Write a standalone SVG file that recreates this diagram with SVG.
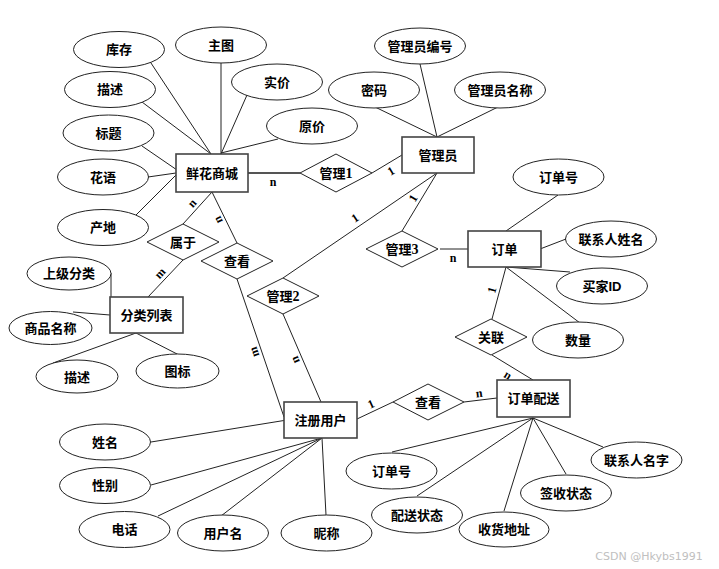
<svg xmlns="http://www.w3.org/2000/svg" width="719" height="569" viewBox="0 0 719 569">
<style>
.ent{fill:#fff;stroke:#444;stroke-width:1.6}
.rel{fill:#fff;stroke:#222;stroke-width:1}
.att{fill:#fff;stroke:#222;stroke-width:1}
text{font-family:"Liberation Serif","Noto Sans CJK SC",serif;font-weight:bold;font-size:13px;text-anchor:middle;dominant-baseline:central;fill:#000}
.card{font-size:12px}
.num{font-size:14px}
.conn line{stroke:#222;stroke-width:1}
.wm{font-family:"DejaVu Sans",sans-serif;font-weight:normal;font-size:11px;fill:#c0c0c0}
</style>
<rect width="719" height="569" fill="#fff"/>
<g class="conn">
<line x1="149" y1="60" x2="211" y2="154"/>
<line x1="221" y1="63" x2="221" y2="154"/>
<line x1="247" y1="95" x2="221" y2="154"/>
<line x1="142" y1="102" x2="211" y2="154"/>
<line x1="278" y1="139" x2="221" y2="153"/>
<line x1="142" y1="146" x2="177" y2="170"/>
<line x1="148" y1="177" x2="176" y2="173"/>
<line x1="134" y1="217" x2="176" y2="175"/>
<line x1="248" y1="173" x2="300" y2="173" style="stroke:#555;stroke-width:2"/>
<line x1="372" y1="173" x2="402" y2="155"/>
<line x1="420" y1="64" x2="437" y2="137"/>
<line x1="375" y1="107" x2="437" y2="137"/>
<line x1="498" y1="107" x2="437" y2="137"/>
<line x1="437" y1="173" x2="402" y2="231"/>
<line x1="437" y1="173" x2="283" y2="278"/>
<line x1="440" y1="249" x2="470" y2="249"/>
<line x1="558" y1="195" x2="506" y2="231"/>
<line x1="566" y1="239" x2="540" y2="249"/>
<line x1="506" y1="267" x2="570" y2="272"/>
<line x1="506" y1="267" x2="580" y2="323"/>
<line x1="506" y1="267" x2="492" y2="319"/>
<line x1="492" y1="355" x2="533" y2="380"/>
<line x1="464" y1="402" x2="497" y2="398"/>
<line x1="357" y1="419" x2="393" y2="402"/>
<line x1="212" y1="192" x2="183" y2="224"/>
<line x1="212" y1="192" x2="237" y2="243"/>
<line x1="183" y1="260" x2="148" y2="297"/>
<line x1="237" y1="279" x2="284" y2="417"/>
<line x1="283" y1="314" x2="321" y2="402"/>
<line x1="111" y1="273" x2="111" y2="297"/>
<line x1="73" y1="312" x2="110" y2="315"/>
<line x1="53" y1="363" x2="136" y2="333"/>
<line x1="181" y1="356" x2="136" y2="333"/>
<line x1="151" y1="442" x2="287" y2="420"/>
<line x1="151" y1="485" x2="322" y2="438"/>
<line x1="158" y1="516" x2="322" y2="438"/>
<line x1="221" y1="516" x2="322" y2="438"/>
<line x1="326" y1="515" x2="322" y2="438"/>
<line x1="392" y1="452" x2="533" y2="418"/>
<line x1="417" y1="496" x2="533" y2="418"/>
<line x1="504" y1="511" x2="533" y2="418"/>
<line x1="566" y1="474" x2="533" y2="418"/>
<line x1="603" y1="447" x2="533" y2="418"/>
</g>
<g id="labels">
<text class="card" x="273" y="182">n</text>
<text class="card" transform="translate(391,171) rotate(-31)">1</text>
<text class="card" transform="translate(413,198) rotate(-59)">1</text>
<text class="card" transform="translate(355,218) rotate(-34)">1</text>
<text class="card" x="453" y="258">n</text>
<text class="card" transform="translate(492,290) rotate(-75)">1</text>
<text class="card" transform="translate(508,375) rotate(31)">n</text>
<text class="card" transform="translate(479,393) rotate(-7)">n</text>
<text class="card" transform="translate(371,404) rotate(-25)">1</text>
<text class="card" transform="translate(192,203) rotate(-48)">n</text>
<text class="card" transform="translate(218,220) rotate(-116)">n</text>
<text class="card" transform="translate(160,273) rotate(-47)">m</text>
<text class="card" transform="translate(254,352) rotate(-109)">m</text>
<text class="card" transform="translate(295,360) rotate(-113)">n</text>
</g>
<g id="e-xianhua"><rect class="ent" x="176" y="154" width="72" height="38"/><text x="212" y="173">鲜花商城</text></g>
<g id="e-guanliyuan"><rect class="ent" x="402" y="137" width="72" height="36"/><text x="438" y="155">管理员</text></g>
<g id="e-dingdan"><rect class="ent" x="468" y="231" width="73" height="36"/><text x="504.5" y="249">订单</text></g>
<g id="e-fenlei"><rect class="ent" x="110" y="297" width="73" height="36"/><text x="146.5" y="315">分类列表</text></g>
<g id="e-zhuce"><rect class="ent" x="284" y="402" width="73" height="36"/><text x="320.5" y="420">注册用户</text></g>
<g id="e-peisong"><rect class="ent" x="497" y="380" width="73" height="37"/><text x="533.5" y="398.5">订单配送</text></g>
<g id="r-guanli1"><polygon class="rel" points="300,173 336,154 372,173 336,192"/><text x="336" y="173">管理<tspan class="num">1</tspan></text></g>
<g id="r-shuyu"><polygon class="rel" points="147,242 183,224 219,242 183,260"/><text x="183" y="242">属于</text></g>
<g id="r-chakan1"><polygon class="rel" points="201,261 237,243 273,261 237,279"/><text x="237" y="261">查看</text></g>
<g id="r-guanli2"><polygon class="rel" points="247,296 283,278 319,296 283,314"/><text x="283" y="296">管理<tspan class="num">2</tspan></text></g>
<g id="r-guanli3"><polygon class="rel" points="366,249 402,231 438,249 402,267"/><text x="402" y="249">管理<tspan class="num">3</tspan></text></g>
<g id="r-guanlian"><polygon class="rel" points="455,337 491,319 527,337 491,355"/><text x="491" y="337">关联</text></g>
<g id="r-chakan2"><polygon class="rel" points="393,402 428,384 464,402 428,420"/><text x="428" y="402">查看</text></g>
<g id="a-kucun"><ellipse class="att" cx="119" cy="49.5" rx="45.5" ry="18"/><text x="119" y="49.5">库存</text></g>
<g id="a-zhutu"><ellipse class="att" cx="221" cy="45" rx="45.5" ry="18"/><text x="221" y="45">主图</text></g>
<g id="a-shijia"><ellipse class="att" cx="277" cy="82" rx="45.5" ry="18"/><text x="277" y="82">实价</text></g>
<g id="a-miaoshu"><ellipse class="att" cx="110" cy="89.5" rx="45.5" ry="18"/><text x="110" y="89.5">描述</text></g>
<g id="a-yuanjia"><ellipse class="att" cx="312" cy="126" rx="45.5" ry="18"/><text x="312" y="126">原价</text></g>
<g id="a-biaoti"><ellipse class="att" cx="108.5" cy="133" rx="45.5" ry="18"/><text x="108.5" y="133">标题</text></g>
<g id="a-huayu"><ellipse class="att" cx="103" cy="177" rx="45.5" ry="18"/><text x="103" y="177">花语</text></g>
<g id="a-chandi"><ellipse class="att" cx="103" cy="227.5" rx="45.5" ry="18"/><text x="103" y="227.5">产地</text></g>
<g id="a-glybh"><ellipse class="att" cx="420" cy="46" rx="45.5" ry="18"/><text x="420" y="46">管理员编号</text></g>
<g id="a-mima"><ellipse class="att" cx="374" cy="90" rx="45.5" ry="18"/><text x="374" y="90">密码</text></g>
<g id="a-glymc"><ellipse class="att" cx="500" cy="90" rx="45.5" ry="18"/><text x="500" y="90">管理员名称</text></g>
<g id="a-ddh"><ellipse class="att" cx="558.5" cy="177" rx="45.5" ry="18"/><text x="558.5" y="177">订单号</text></g>
<g id="a-lxrxm"><ellipse class="att" cx="611" cy="239" rx="45.5" ry="18"/><text x="611" y="239">联系人姓名</text></g>
<g id="a-mjid"><ellipse class="att" cx="602" cy="286" rx="45.5" ry="18"/><text x="602" y="286">买家<tspan style="font-family:'Liberation Sans','Noto Sans CJK SC',sans-serif">ID</tspan></text></g>
<g id="a-shuliang"><ellipse class="att" cx="578" cy="340" rx="45.5" ry="18"/><text x="578" y="340">数量</text></g>
<g id="a-sjfl"><ellipse class="att" cx="69" cy="273.5" rx="42" ry="16.5"/><text x="69" y="273.5">上级分类</text></g>
<g id="a-spmc"><ellipse class="att" cx="50.5" cy="328" rx="41.5" ry="16.5"/><text x="50.5" y="328">商品名称</text></g>
<g id="a-miaoshu2"><ellipse class="att" cx="77" cy="376.5" rx="41" ry="16.5"/><text x="77" y="377">描述</text></g>
<g id="a-tubiao"><ellipse class="att" cx="177.5" cy="371" rx="41.5" ry="17"/><text x="177.5" y="371">图标</text></g>
<g id="a-xingming"><ellipse class="att" cx="105" cy="442" rx="45.5" ry="18"/><text x="105" y="442">姓名</text></g>
<g id="a-xingbie"><ellipse class="att" cx="105" cy="485.5" rx="45.5" ry="18"/><text x="105" y="485.5">性别</text></g>
<g id="a-dianhua"><ellipse class="att" cx="124.5" cy="529.5" rx="45.5" ry="18"/><text x="124.5" y="529.5">电话</text></g>
<g id="a-yhm"><ellipse class="att" cx="223" cy="533" rx="45.5" ry="18"/><text x="223" y="533">用户名</text></g>
<g id="a-nicheng"><ellipse class="att" cx="326.5" cy="533" rx="45.5" ry="18"/><text x="326.5" y="533">昵称</text></g>
<g id="a-ddh2"><ellipse class="att" cx="391.5" cy="471" rx="45.5" ry="18"/><text x="391.5" y="471">订单号</text></g>
<g id="a-pszt"><ellipse class="att" cx="417" cy="515" rx="45.5" ry="18"/><text x="417" y="515">配送状态</text></g>
<g id="a-shdz"><ellipse class="att" cx="504" cy="529.5" rx="45" ry="17.5"/><text x="504" y="529.5">收货地址</text></g>
<g id="a-qszt"><ellipse class="att" cx="566" cy="493" rx="45.5" ry="18"/><text x="566" y="493">签收状态</text></g>
<g id="a-lxrmz"><ellipse class="att" cx="636.5" cy="460" rx="45.5" ry="18"/><text x="636.5" y="460">联系人名字</text></g>
<text class="wm" x="649" y="556">CSDN @Hkybs1991</text>
</svg>
